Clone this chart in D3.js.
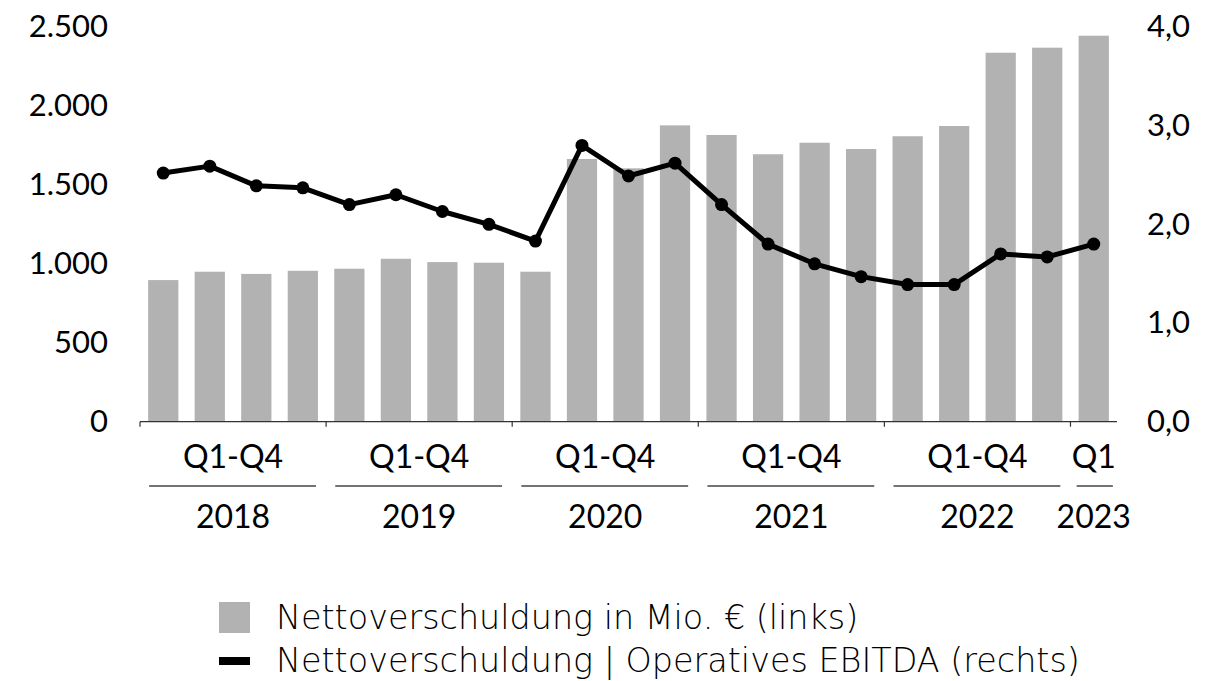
<!DOCTYPE html>
<html>
<head>
<meta charset="utf-8">
<script src="https://cdn.jsdelivr.net/npm/d3@7"></script>
<style>
  body { margin: 0; background: #fff; }
  svg text { font-family: Lato, "Open Sans", sans-serif; fill: #000; }
  svg text.legend-text { font-family: "DejaVu Sans", sans-serif; font-weight: 200; }
</style>
</head>
<body>
<div id="chart"></div>
<script>
// Quartale Q1 2018 bis Q1 2023
const quarters = ['2018Q1','2018Q2','2018Q3','2018Q4','2019Q1','2019Q2','2019Q3','2019Q4',
  '2020Q1','2020Q2','2020Q3','2020Q4','2021Q1','2021Q2','2021Q3','2021Q4',
  '2022Q1','2022Q2','2022Q3','2022Q4','2023Q1'];
// Nettoverschuldung in Mio. € (links)
const netDebt = [897, 950, 936, 956, 969, 1032, 1011, 1007, 950, 1664, 1605, 1877,
  1816, 1694, 1767, 1727, 1808, 1873, 2337, 2369, 2445];
// Nettoverschuldung / Operatives EBITDA (rechts)
const ratio = [2.52, 2.59, 2.39, 2.37, 2.20, 2.30, 2.13, 2.00, 1.83, 2.80, 2.49, 2.62,
  2.20, 1.80, 1.60, 1.47, 1.39, 1.39, 1.70, 1.67, 1.80];
// Gruppen unter der Achse
const groups = [
  { period: 'Q1-Q4', year: '2018', from: 0, to: 3 },
  { period: 'Q1-Q4', year: '2019', from: 4, to: 7 },
  { period: 'Q1-Q4', year: '2020', from: 8, to: 11 },
  { period: 'Q1-Q4', year: '2021', from: 12, to: 15 },
  { period: 'Q1-Q4', year: '2022', from: 16, to: 19 },
  { period: 'Q1', year: '2023', from: 20, to: 20 }
];
const leftTicks = [0, 500, 1000, 1500, 2000, 2500];
const rightTicks = [0, 1, 2, 3, 4];
const legendLabels = ['Nettoverschuldung in Mio. € (links)',
  'Nettoverschuldung | Operatives EBITDA (rechts)'];

const width = 1217, height = 681;
const de = d3.formatLocale({ decimal: ',', thousands: '.', grouping: [3], currency: ['', ' €'] });

const svg = d3.select('#chart')
  .append('svg')
  .attr('width', width)
  .attr('height', height);

const xScale = d3.scaleBand()
  .domain(d3.range(quarters.length))
  .range([140, 1117])
  .paddingInner(0.35)
  .paddingOuter(0.175);

const yLeft = d3.scaleLinear().domain([0, 2500]).range([421.7, 27]);
const yRight = d3.scaleLinear().domain([0, 4]).range([421.7, 27]);

// Balken
svg.selectAll('.bar')
  .data(netDebt)
  .enter()
  .append('rect')
  .attr('class', 'bar')
  .attr('x', (d, i) => xScale(i))
  .attr('y', d => yLeft(d))
  .attr('width', xScale.bandwidth())
  .attr('height', d => yLeft(0) - yLeft(d))
  .attr('fill', '#b2b2b2');

// x-Achse mit Trennstrichen zwischen den Jahren
const baseY = yLeft(0);
svg.append('line')
  .attr('x1', 140).attr('x2', 1117)
  .attr('y1', baseY).attr('y2', baseY)
  .attr('stroke', '#333').attr('stroke-width', 1.2);

const step = xScale.step();
const tickXs = groups.map(g => xScale(g.from) - step * 0.175);
svg.selectAll('.xtick')
  .data(tickXs)
  .enter()
  .append('line')
  .attr('x1', d => d).attr('x2', d => d)
  .attr('y1', baseY).attr('y2', baseY + 5)
  .attr('stroke', '#333').attr('stroke-width', 1.2);

// Linie
const line = d3.line()
  .x((d, i) => xScale(i) + xScale.bandwidth() / 2)
  .y(d => yRight(d));

svg.append('path')
  .datum(ratio)
  .attr('d', line)
  .attr('fill', 'none')
  .attr('stroke', '#000')
  .attr('stroke-width', 5)
  .attr('stroke-linejoin', 'round');

svg.selectAll('.dot')
  .data(ratio)
  .enter()
  .append('circle')
  .attr('cx', (d, i) => xScale(i) + xScale.bandwidth() / 2)
  .attr('cy', d => yRight(d))
  .attr('r', 6.5)
  .attr('fill', '#000');

// Achsen links/rechts
const yAxisLeft = d3.axisLeft(yLeft)
  .tickValues(leftTicks)
  .tickSize(0)
  .tickPadding(0)
  .tickFormat(de.format(',.0f'));
svg.append('g')
  .attr('transform', 'translate(108,0)')
  .call(yAxisLeft)
  .call(g => g.select('.domain').remove())
  .selectAll('text')
  .style('font-size', '31px');

const yAxisRight = d3.axisRight(yRight)
  .tickValues(rightTicks)
  .tickSize(0)
  .tickPadding(0)
  .tickFormat(de.format(',.1f'));
svg.append('g')
  .attr('transform', 'translate(1147,0)')
  .call(yAxisRight)
  .call(g => g.select('.domain').remove())
  .selectAll('text')
  .style('font-size', '31px');

svg.selectAll('.tick text').attr('fill', '#000');

// Gruppenbeschriftung
const grp = svg.selectAll('.grp')
  .data(groups)
  .enter()
  .append('g');

grp.append('text')
  .attr('x', g => (xScale(g.from) + xScale(g.to) + xScale.bandwidth()) / 2)
  .attr('y', 468)
  .attr('text-anchor', 'middle')
  .style('font-size', '32px')
  .text(g => g.period);

grp.append('line')
  .attr('x1', g => xScale(g.from) + (g.from === g.to ? -2 : 1))
  .attr('x2', g => xScale(g.to) + xScale.bandwidth() + (g.from === g.to ? 4 : -2))
  .attr('y1', 486).attr('y2', 486)
  .attr('stroke', '#444').attr('stroke-width', 1.5);

grp.append('text')
  .attr('x', g => (xScale(g.from) + xScale(g.to) + xScale.bandwidth()) / 2)
  .attr('y', 528)
  .attr('text-anchor', 'middle')
  .style('font-size', '32px')
  .text(g => g.year);

// Legende
const legend = svg.append('g');
legend.append('rect')
  .attr('x', 219).attr('y', 602)
  .attr('width', 31).attr('height', 31)
  .attr('fill', '#b2b2b2');
legend.append('rect')
  .attr('x', 219).attr('y', 657)
  .attr('width', 31).attr('height', 8)
  .attr('fill', '#000');
legend.selectAll('.legend-text')
  .data(legendLabels)
  .enter()
  .append('text')
  .attr('class', 'legend-text')
  .attr('x', 276)
  .attr('y', (d, i) => 629 + i * 43)
  .style('font-size', '33.4px')
  .text(d => d);
</script>
</body>
</html>
